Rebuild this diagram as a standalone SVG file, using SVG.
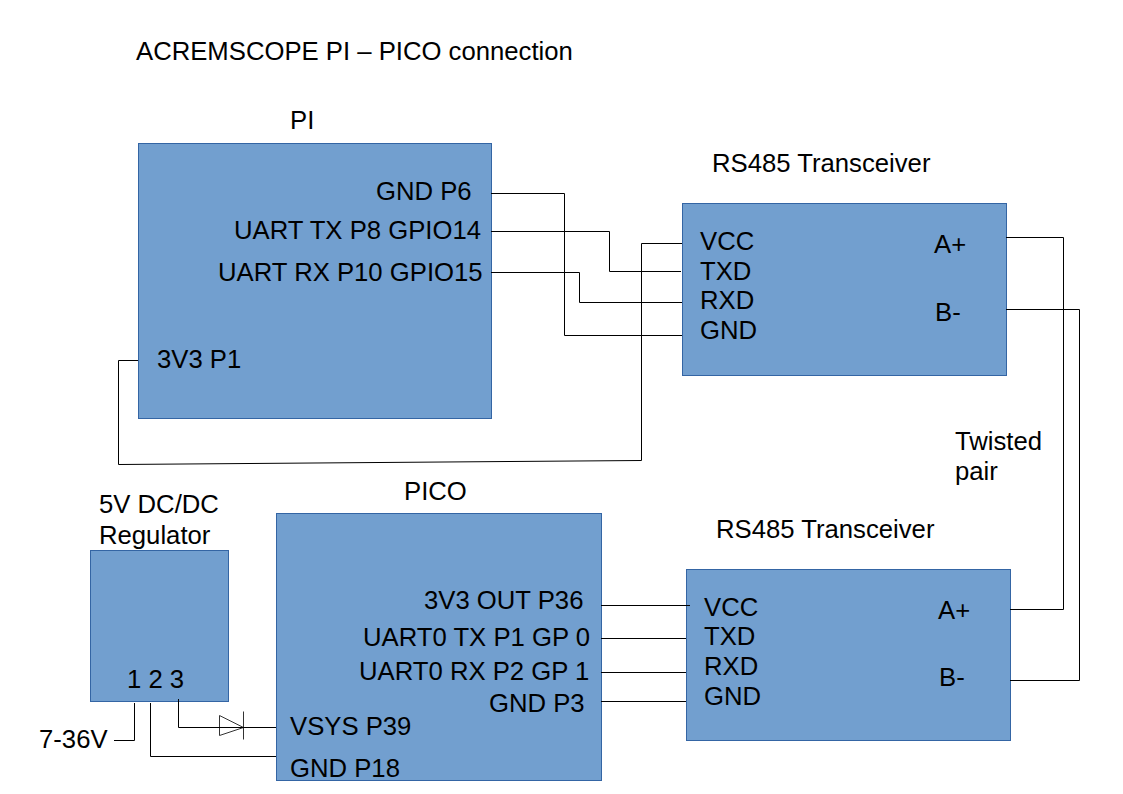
<svg xmlns="http://www.w3.org/2000/svg" width="1123" height="794" viewBox="0 0 1123 794">
<style>
.box{fill:#729fcf;stroke:#3465a4;stroke-width:1}
.t{font-family:"Liberation Sans",Arial,sans-serif;font-size:25.7px;fill:#000}
.w{fill:none;stroke:#000;stroke-width:1}
.d{fill:none;stroke:#333;stroke-width:1}
</style>
<rect width="1123" height="794" fill="#fff"/>
<text class="t" x="136" y="60">ACREMSCOPE PI – PICO connection</text>
<g id="pi">
<rect class="box" x="138.500" y="143.500" width="353" height="275"/>
<text class="t" x="290" y="129">PI</text>
<text class="t" x="376" y="200">GND P6</text>
<text class="t" x="234" y="239">UART TX P8 GPIO14</text>
<text class="t" x="218" y="281">UART RX P10 GPIO15</text>
<text class="t" x="157" y="368">3V3 P1</text>
</g>
<g id="transceiver1">
<rect class="box" x="682.500" y="203.500" width="324" height="172"/>
<text class="t" x="712" y="172">RS485 Transceiver</text>
<text class="t" x="700" y="250">VCC</text>
<text class="t" x="700" y="280">TXD</text>
<text class="t" x="700" y="309">RXD</text>
<text class="t" x="700" y="339">GND</text>
<text class="t" x="934" y="253">A+</text>
<text class="t" x="935" y="321">B-</text>
</g>
<g id="transceiver2">
<rect class="box" x="686.500" y="569.500" width="324" height="171"/>
<text class="t" x="716" y="538">RS485 Transceiver</text>
<text class="t" x="704" y="616">VCC</text>
<text class="t" x="704" y="645">TXD</text>
<text class="t" x="704" y="675">RXD</text>
<text class="t" x="704" y="705">GND</text>
<text class="t" x="938" y="619">A+</text>
<text class="t" x="939" y="686">B-</text>
</g>
<g id="pico">
<rect class="box" x="276.500" y="513.500" width="325" height="267"/>
<text class="t" x="404" y="500">PICO</text>
<text class="t" x="424" y="609">3V3 OUT P36</text>
<text class="t" x="363" y="646">UART0 TX P1 GP 0</text>
<text class="t" x="359" y="680">UART0 RX P2 GP 1</text>
<text class="t" x="489" y="712">GND P3</text>
<text class="t" x="290" y="735">VSYS P39</text>
<text class="t" x="290" y="777">GND P18</text>
</g>
<g id="regulator">
<rect class="box" x="90.500" y="550.500" width="138" height="151"/>
<text class="t" x="99" y="513">5V DC/DC</text>
<text class="t" x="99" y="544">Regulator</text>
<text class="t" x="127" y="688">1 2 3</text>
</g>
<g id="diode">
<path class="d" d="M219.500 715.500 V735.500 L243.500 727.500 Z M243.500 711.500 V739.500"/>
</g>
<g id="connectors">
<path class="w" d="M491 193.500 H564.500 V335.500 H682"/>
<path class="w" d="M491 231.500 H609.500 V271.500 H681"/>
<path class="w" d="M491 272.500 H579.500 V302.500 H682"/>
<path class="w" d="M682 243.500 H641.500 V460.500 L118.500 464.500 V360.500 H138"/>
<path class="w" d="M1006 237.500 H1063.500 V609.500 H1010"/>
<path class="w" d="M1006 309.500 H1079.500 V680.500 H1010"/>
<path class="w" d="M601 605.500 H690"/>
<path class="w" d="M601 638.500 H686"/>
<path class="w" d="M601 672.500 H686"/>
<path class="w" d="M601 701.500 H686"/>
<path class="w" d="M134.500 703 V740.500 H114"/>
<path class="w" d="M150.500 703 V756.500 H276"/>
<path class="w" d="M178.500 699 V727.500 H276"/>
</g>
<text class="t" x="39" y="748">7-36V</text>
<text class="t" x="955" y="450">Twisted</text>
<text class="t" x="955" y="480">pair</text>
</svg>
